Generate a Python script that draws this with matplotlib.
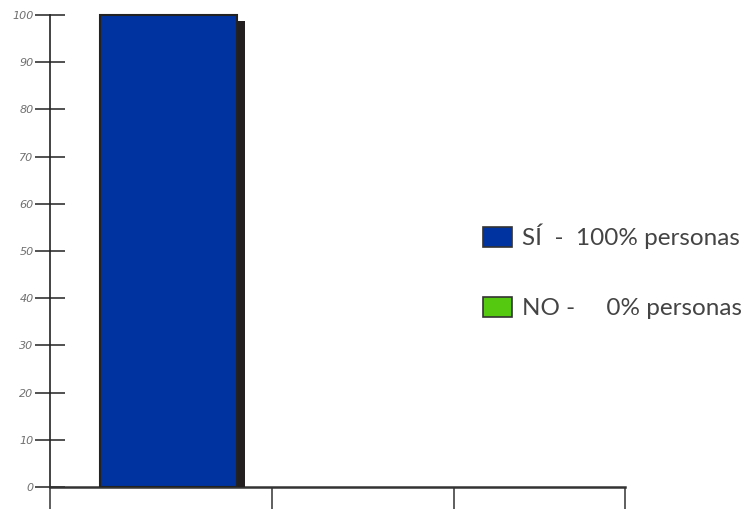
import matplotlib.pyplot as plt
import matplotlib.patheffects as pe
from matplotlib.patches import Patch

# respuestas de la encuesta
categorias = ['SÍ', 'NO']
porcentajes = [100, 0]
colores = ['#0033a0', '#55c90f']
etiquetas = ['SÍ  -  100% personas', 'NO -     0% personas']
yticks = [0, 10, 20, 30, 40, 50, 60, 70, 80, 90, 100]

fig = plt.figure(figsize=(7.47, 5.09), dpi=100)
ax = fig.add_axes([50/747, 22/509, 575/747, 477/509])

posiciones = [118.5, 363]
sombra = [pe.SimplePatchShadow(offset=(6, -4.5), shadow_rgbFace='#231f20', alpha=1.0), pe.Normal()]
barras = ax.bar(posiciones, porcentajes, width=137, color=colores,
                edgecolor='#222222', linewidth=1.5, zorder=3)
for b, v in zip(barras, porcentajes):
    if v > 0:
        b.set_path_effects(sombra)
    else:
        b.set_linewidth(0)

ax.set_xlim(0, 575)
ax.set_ylim(0, 101.06)

for s in ['top', 'right']:
    ax.spines[s].set_visible(False)
ax.spines['left'].set_bounds(0, 100)
ax.spines['left'].set_linewidth(1.2)
ax.spines['left'].set_color('#222222')
ax.spines['bottom'].set_linewidth(1.8)
ax.spines['bottom'].set_color('#333333')

ax.set_yticks(yticks)
ax.set_yticklabels([str(v) for v in yticks], fontsize=8, style='italic',
                   color='#707070', family='DejaVu Sans')
ax.tick_params(axis='y', direction='inout', length=21.6, width=1.1,
               color='#222222', pad=1)
ax.set_xticks([0, 222, 404, 575])
ax.set_xticklabels([])
ax.tick_params(axis='x', direction='out', length=15.8, width=1.1, color='#333333')

manijas = [Patch(facecolor=c, edgecolor='#333333', linewidth=1.2) for c in colores]
leg = fig.legend(manijas, etiquetas, loc='upper left', bbox_to_anchor=(461/747, 1 - 202/509),
                 frameon=False, handlelength=1.2, handleheight=0.88,
                 labelspacing=1.95, handletextpad=0.4,
                 prop={'family': 'Lato', 'size': 17.5})
for t in leg.get_texts():
    t.set_color('#444444')

fig.savefig('out.png', dpi=100)
